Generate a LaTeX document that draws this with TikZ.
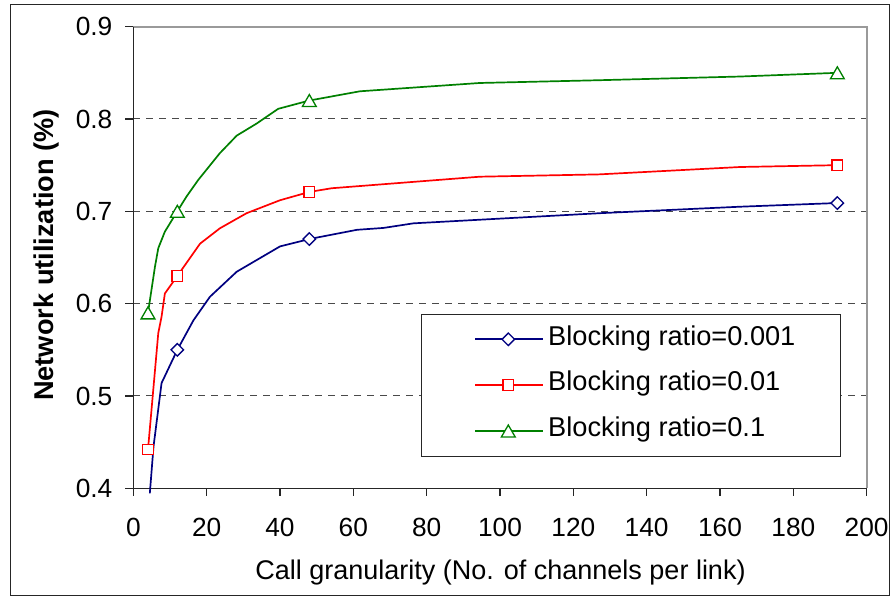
\documentclass[tikz,border=0pt]{standalone}
\usepackage{fontspec}
\setmainfont{Liberation Sans}
\usetikzlibrary{shapes.geometric}
\definecolor{serA}{HTML}{000080}
\definecolor{serB}{HTML}{FF0000}
\definecolor{serC}{HTML}{008000}
\definecolor{framegray}{HTML}{9A9A9A}
\definecolor{gridgray}{HTML}{4A4A4A}
\begin{document}
\begin{tikzpicture}[x=1pt,y=-1pt,
  ticklbl/.style={inner sep=0pt, font=\fontsize{26.3}{30}\selectfont},
  legtxt/.style={inner sep=0pt, anchor=base west, font=\fontsize{27.2}{32}\selectfont},
  xtitletxt/.style={inner sep=0pt, font=\fontsize{27}{32}\selectfont},
  ytitletxt/.style={inner sep=0pt, font=\fontsize{27.2}{32}\selectfont\bfseries},
  gridline/.style={gridgray, dash pattern=on 7pt off 6pt, line width=1pt},
  curve/.style={line width=1.7pt, line join=round},
  mk/.style={fill=white, line width=1.3pt, inner sep=0pt, outer sep=0pt},
  dmk/.style={mk, shape=diamond, aspect=1, minimum size=12.5pt},
  smk/.style={mk, shape=rectangle, minimum size=10.5pt},
  tmk/.style={mk, shape=regular polygon, regular polygon sides=3, minimum size=16pt, yshift=-2pt},
]
\useasboundingbox (0,0) rectangle (892,596);
\fill[white] (0,0) rectangle (892,596);

% outer chart border
\draw[line width=1.4pt, black!85] (10.5,4.5) rectangle (889.5,595.5);

% axis titles
\node[xtitletxt, anchor=base] (xtitle) at (500.5,579) {Call granularity (No. of channels per link)};
\node[ytitletxt, rotate=90, anchor=base] (ytitle) at (53.5,255) {Network utilization (\%)};

% data area: x in channels, y in utilization
\begin{scope}[shift={(133.33,488.33)}, yshift=-369.33pt, x=3.6667pt, y=923.33pt]
  % horizontal grid
  \foreach \v in {0.5,0.6,0.7,0.8}
    \draw[gridline] (0,\v) -- (200,\v);
  % plot area frame and axes
  \draw[framegray, line width=1.8pt] (0,0.9) -- (200,0.9) -- (200,0.4);
  \draw[black!85, line width=1.3pt] (0,0.9) -- (0,0.4) -- (200,0.4);
  % y ticks and labels
  \foreach \v [count=\i] in {0.4,0.5,0.6,0.7,0.8,0.9} {
    \draw[black!85, line width=1.3pt] (0,\v) -- ++(-8pt,0);
    \node[ticklbl, anchor=east] (ylbl\i) at ([xshift=-20.8pt]0,\v) {\v};
  }
  % x ticks and labels
  \foreach \v [count=\i] in {0,20,40,60,80,100,120,140,160,180,200} {
    \draw[black!85, line width=1.3pt] (\v,0.4) -- ++(0,-8pt);
    \node[ticklbl] (xlbl\i) at ([yshift=-38.7pt]\v,0.4) {\v};
  }

  % blocking ratio 0.001
  \draw[curve, serA] (4.5,0.3946) -- (5.5,0.445) -- (7.7,0.514) -- (12,0.55)
    -- (16.4,0.582) -- (20.9,0.6075) -- (28.2,0.6346) -- (40,0.662) -- (48,0.67)
    -- (61,0.680) -- (68.2,0.682) -- (76.4,0.687) -- (127.3,0.698)
    -- (165.5,0.705) -- (192,0.709);
  % blocking ratio 0.01
  \draw[curve, serB] (4,0.442) -- (6.8,0.568) -- (7.7,0.586) -- (8.6,0.611)
    -- (12,0.63) -- (18.2,0.665) -- (23.6,0.6816) -- (30.9,0.698) -- (40,0.712)
    -- (48,0.721) -- (54.1,0.725) -- (94.5,0.7375) -- (127,0.740)
    -- (165.5,0.748) -- (192,0.75);
  % blocking ratio 0.1
  \draw[curve, serC] (4,0.59) -- (5.9,0.640) -- (6.8,0.66) -- (8.6,0.678) -- (12,0.70)
    -- (14.5,0.716) -- (17.7,0.734) -- (23.6,0.763) -- (28.2,0.782)
    -- (33.6,0.795) -- (39.5,0.811) -- (48,0.82) -- (61.8,0.830)
    -- (94.5,0.839) -- (127,0.842) -- (165.5,0.846) -- (192,0.85);

  % markers
  \node[dmk, draw=serA] (a12) at (12,0.55) {};
  \node[dmk, draw=serA] (a48) at (48,0.67) {};
  \node[dmk, draw=serA] (a192) at (192,0.709) {};
  \node[smk, draw=serB] (b4) at (4,0.442) {};
  \node[smk, draw=serB] (b12) at (12,0.63) {};
  \node[smk, draw=serB] (b48) at (48,0.721) {};
  \node[smk, draw=serB] (b192) at (192,0.75) {};
  \node[tmk, draw=serC] (c4) at (4,0.59) {};
  \node[tmk, draw=serC] (c12) at (12,0.70) {};
  \node[tmk, draw=serC] (c48) at (48,0.82) {};
  \node[tmk, draw=serC] (c192) at (192,0.85) {};
\end{scope}

% legend
\node[draw=black!85, fill=white, line width=1pt, inner sep=0pt, anchor=north west,
      minimum width=419pt, minimum height=142pt] (legbox) at (421,314) {};
\coordinate (la1) at (475,339.3); \coordinate (la2) at (542.7,339.3);
\coordinate (lb1) at (475,385);   \coordinate (lb2) at (542.7,385);
\coordinate (lc1) at (475,431);   \coordinate (lc2) at (542.7,431);
\draw[curve, serA] (la1) -- (la2);
\draw[curve, serB] (lb1) -- (lb2);
\draw[curve, serC] (lc1) -- (lc2);
\node[dmk, draw=serA] (lma) at (508.3,339.3) {};
\node[smk, draw=serB] (lmb) at (508.3,385) {};
\node[tmk, draw=serC] (lmc) at (508.3,431) {};
\node[legtxt] (lta) at (548,345) {Blocking ratio=0.001};
\node[legtxt] (ltb) at (548,390.7) {Blocking ratio=0.01};
\node[legtxt] (ltc) at (548,436.7) {Blocking ratio=0.1};
\end{tikzpicture}
\end{document}
